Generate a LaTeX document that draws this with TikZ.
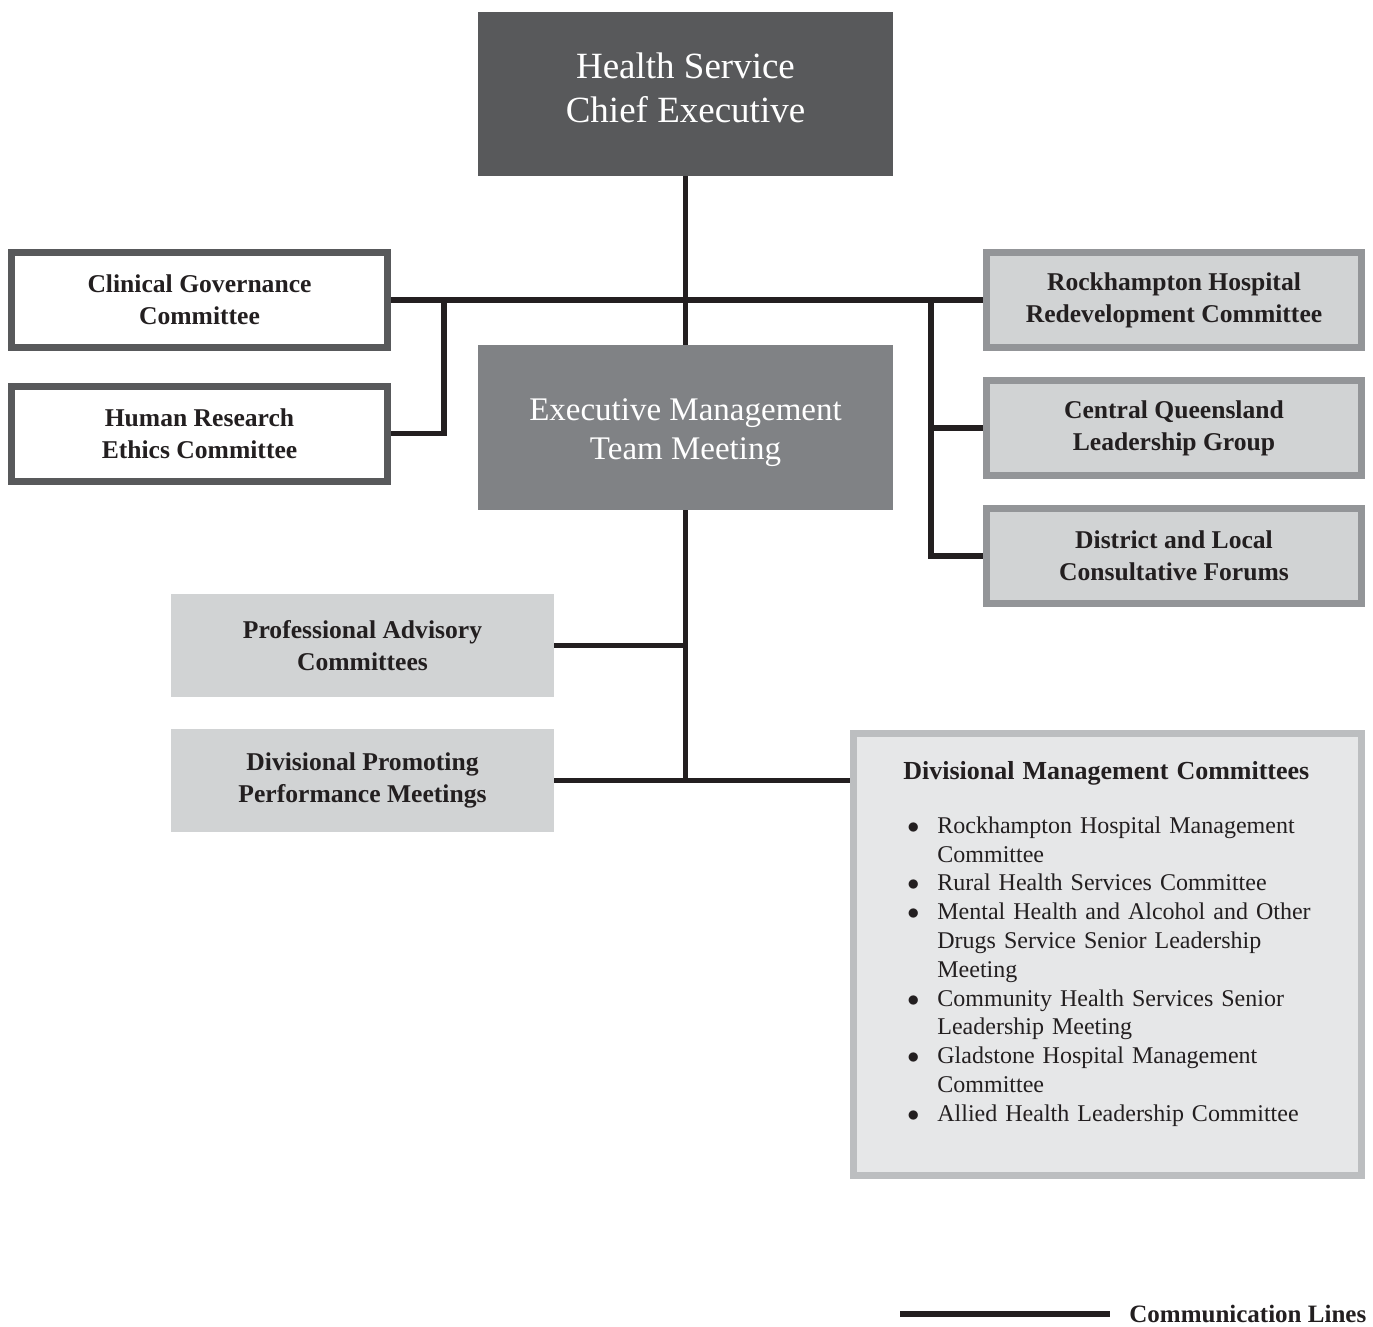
\documentclass[tikz,border=0pt]{standalone}
\usepackage{fontspec}
\setmainfont{Liberation Serif}
\usepackage{enumitem}
\usepackage{tikz}
\usetikzlibrary{positioning}
\definecolor{chiefgray}{HTML}{58595B}
\definecolor{teamgray}{HTML}{808285}
\definecolor{sidegray}{HTML}{939598}
\definecolor{sidefill}{HTML}{D1D3D4}
\definecolor{divborder}{HTML}{BCBEC0}
\definecolor{divfill}{HTML}{E6E7E8}
\definecolor{inkblack}{HTML}{231F20}
\newcommand{\liftlines}[2]{\raisebox{#1}[\height][\depth]{\begin{tabular}{@{}c@{}}#2\end{tabular}}}

\begin{document}
\begin{tikzpicture}[x=0.5pt, y=-0.5pt,
    comm/.style={line width=2.6pt, draw=inkblack},
    headbox/.style={minimum width=207.5pt, minimum height=82pt, align=center, text=white},
    leftbox/.style={draw=chiefgray, line width=3.5pt, fill=white, minimum width=188pt, minimum height=47.5pt,
        align=center, text=inkblack, font=\fontsize{12.8}{16}\selectfont\bfseries},
    rightbox/.style={leftbox, draw=sidegray, fill=sidefill, minimum width=187.5pt},
    flatbox/.style={fill=sidefill, minimum width=191.5pt, minimum height=51.5pt,
        align=center, text=inkblack, font=\fontsize{12.8}{16}\selectfont\bfseries}]

    \useasboundingbox (0,0) rectangle (1373,1327);

    % top of the chart
    \node[headbox, fill=chiefgray, font=\fontsize{18.5}{22}\selectfont] (chief) at (685.5,94) {\liftlines{1pt}{Health Service\\Chief Executive}};
    \node[headbox, fill=teamgray, minimum height=82.5pt, font=\fontsize{16.5}{19.5}\selectfont] (team) at (685.5,427.5) {\liftlines{-2.5pt}{Executive Management\\Team Meeting}};

    % committees on the left
    \node[leftbox] (clinical) at (199.5,300) {Clinical Governance\\Committee};
    \node[leftbox] (ethics) at (199.5,433.5) {Human Research\\Ethics Committee};

    % committees on the right
    \node[rightbox] (redevel) at (1174,300) {Rockhampton Hospital\\Redevelopment Committee};
    \node[rightbox] (cqlg) at (1174,428) {Central Queensland\\Leadership Group};
    \node[rightbox] (forums) at (1174,556) {District and Local\\Consultative Forums};

    % below the team meeting
    \node[flatbox] (advisory) at (362.5,645.5) {Professional Advisory\\Committees};
    \node[flatbox] (promoting) at (362.5,780.5) {Divisional Promoting\\Performance Meetings};

    \node[draw=divborder, line width=3.5pt, fill=divfill, minimum width=254pt, minimum height=221pt] (divmgmt) at (1107.5,954.5) {};
    \node[anchor=north west, inner sep=0pt, text width=240pt, align=left, text=inkblack,
        font=\fontsize{12}{14.4}\selectfont] (divlist) at (903,761) {%
        {\fontsize{13}{14.4}\selectfont\bfseries Divisional Management Committees}\par\vspace{12.5pt}
        \begin{itemize}[nosep, leftmargin=17pt, labelsep=9pt, label=$\bullet$]
            \item Rockhampton Hospital Management\\Committee
            \item Rural Health Services Committee
            \item Mental Health and Alcohol and Other\\Drugs Service Senior Leadership\\Meeting
            \item Community Health Services Senior\\Leadership Meeting
            \item Gladstone Hospital Management\\Committee
            \item Allied Health Leadership Committee
        \end{itemize}};

    % communication lines
    \coordinate (leftbus) at (444,300);
    \coordinate (rightbus) at (931,300);
    \coordinate (lowbus) at (685.5,780.5);

    \draw[comm] (chief) -- (team);
    \draw[comm] (clinical.east) -- (redevel.west);
    \draw[comm] (ethics.east) -| (leftbus);
    \draw[comm] (rightbus) |- (forums.west);
    \draw[comm] (cqlg.west) -- (cqlg.west -| rightbus);
    \draw[comm] (team) -- (lowbus);
    \draw[comm] (advisory.east) -- (advisory.east -| lowbus);
    \draw[comm] (promoting.east) -- (promoting.east -| divmgmt.west);

    % legend
    \coordinate (legstart) at (900,1314);
    \coordinate (legend) at (1110,1314);
    \node[anchor=west, inner sep=0pt, text=inkblack, font=\fontsize{12.5}{16}\selectfont\bfseries] (legtext) at (1129,1314) {Communication Lines};
    \draw[comm] (legstart) -- (legend);
\end{tikzpicture}
\end{document}
